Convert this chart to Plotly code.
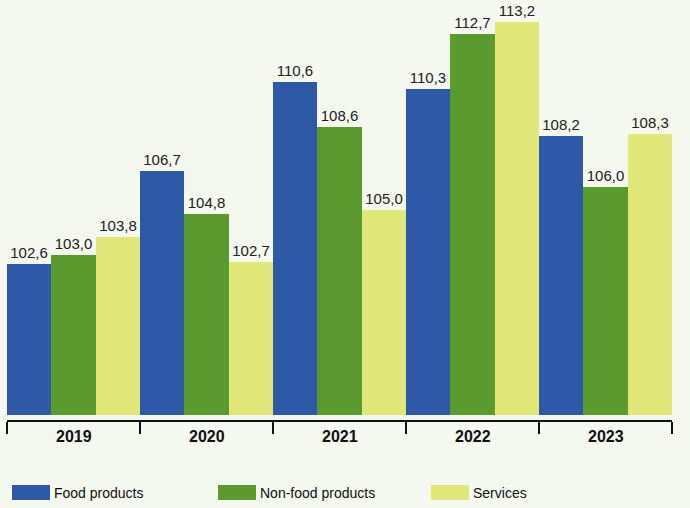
import plotly.graph_objects as go

years = ["2019", "2020", "2021", "2022", "2023"]
series_names = ["Food products", "Non-food products", "Services"]
food = [102.6, 106.7, 110.6, 110.3, 108.2]
non_food = [103.0, 104.8, 108.6, 112.7, 106.0]
services = [103.8, 102.7, 105.0, 113.2, 108.3]

bar_colors = ["#2e59a7", "#5b9a2f", "#e1e779"]
bg = "#f5f8ee"
base_value = 96

label_font = "Liberation Sans, Arial, sans-serif"
narrow_font = "Liberation Sans Narrow, Arial Narrow, Liberation Sans, sans-serif"

fig = go.Figure()
x_pos = list(range(len(years)))
for name, values, color in zip(series_names, [food, non_food, services], bar_colors):
    fig.add_trace(go.Bar(
        x=x_pos,
        y=[v - base_value for v in values],
        base=base_value,
        name=name,
        marker_color=color,
        marker_line_width=0,
        text=[f"{v:.1f}".replace(".", ",") for v in values],
        textposition="outside",
        textfont=dict(family=label_font, size=15, color="#222222"),
        cliponaxis=False,
        hoverinfo="skip",
    ))

# year labels under each group
for i, yr in enumerate(years):
    fig.add_annotation(
        x=i, y=-0.04, xref="x", yref="paper",
        text=yr, showarrow=False, yanchor="middle",
        font=dict(family=narrow_font, size=16, color="#111111", weight="bold"),
    )

# custom legend with wide swatches
legend_x = [12, 218, 431]
for name, color, lx in zip(series_names, bar_colors, legend_x):
    fig.add_shape(
        type="rect", xref="paper", yref="paper",
        x0=(lx - 7) / 665, x1=(lx + 38 - 7) / 665,
        y0=(420 - 500) / 415, y1=(420 - 485) / 415,
        fillcolor=color, line_width=0,
    )
    fig.add_annotation(
        x=(lx + 40 - 7) / 665, y=(420 - 493) / 415, xref="paper", yref="paper",
        text=name, showarrow=False, xanchor="left", yanchor="middle",
        font=dict(family=narrow_font, size=14, color="#111111"),
    )

fig.update_layout(
    width=690, height=508,
    barmode="group", bargap=0, bargroupgap=0,
    plot_bgcolor=bg, paper_bgcolor=bg,
    margin=dict(l=7, r=18, t=5, b=88),
    showlegend=False,
    xaxis=dict(
        range=[-0.5, 4.5],
        tickvals=[-0.499, 0.5, 1.5, 2.5, 3.5, 4.499],
        showticklabels=False,
        ticks="outside", ticklen=12, tickwidth=2, tickcolor="#111111",
        showline=True, linewidth=2, linecolor="#111111",
        showgrid=False, zeroline=False, fixedrange=True,
    ),
    yaxis=dict(
        range=[95.78, 113.96],
        visible=False, showgrid=False, zeroline=False, fixedrange=True,
    ),
)

fig.write_html("out.html", config={"displayModeBar": False},
               post_script="document.body.style.margin='0';")
